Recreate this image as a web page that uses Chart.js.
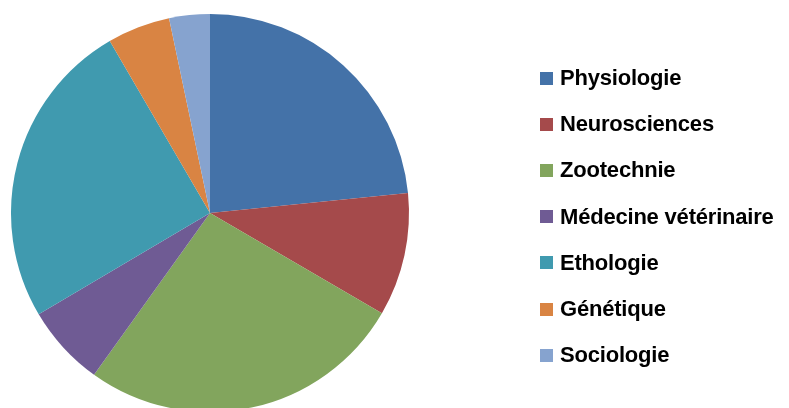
<!DOCTYPE html>
<html>
<head>
<meta charset="utf-8">
<script src="https://cdn.jsdelivr.net/npm/chart.js@4/dist/chart.umd.min.js"></script>
<style>
  html, body { margin: 0; padding: 0; background: #fff; overflow: hidden; }
  #wrap { position: relative; width: 789px; height: 412px; }
  #legend { position: absolute; left: 540px; top: 55px; margin: 0; padding: 0; list-style: none;
    font-family: "Liberation Sans", Arial, sans-serif; font-weight: bold; font-size: 22px; color: #000; }
  #legend li { height: 46.2px; display: flex; align-items: center; letter-spacing: -0.2px; }
  #legend span.box { width: 13px; height: 13px; margin-right: 7px; display: inline-block; }
</style>
</head>
<body>
<div id="wrap">
  <canvas id="pie" width="789" height="412"></canvas>
  <ul id="legend"></ul>
</div>
<script>
const labels = ["Physiologie", "Neurosciences", "Zootechnie", "Médecine vétérinaire", "Ethologie", "Génétique", "Sociologie"];
const values = [23.4, 10.0, 26.5, 6.6, 25.1, 5.1, 3.3];
const colors = ["#4472A8", "#A54A4B", "#82A55D", "#6F5B94", "#409AAF", "#D98443", "#86A3CF"];

const chart = new Chart(document.getElementById("pie"), {
  type: "pie",
  data: {
    labels: labels,
    datasets: [{ data: values, backgroundColor: colors, borderWidth: 0 }],
  },
  options: {
    responsive: false,
    animation: false,
    layout: { padding: { top: 14, bottom: 0, left: 11, right: 380 } },
    plugins: { legend: { display: false }, tooltip: { enabled: false } },
  },
});

// legend as html, built from the chart's own legend items
const ul = document.getElementById("legend");
chart.options.plugins.legend.labels.generateLabels(chart).forEach((item) => {
  const li = document.createElement("li");
  const box = document.createElement("span");
  box.className = "box";
  box.style.background = item.fillStyle;
  li.appendChild(box);
  li.appendChild(document.createTextNode(item.text));
  ul.appendChild(li);
});
</script>
</body>
</html>
